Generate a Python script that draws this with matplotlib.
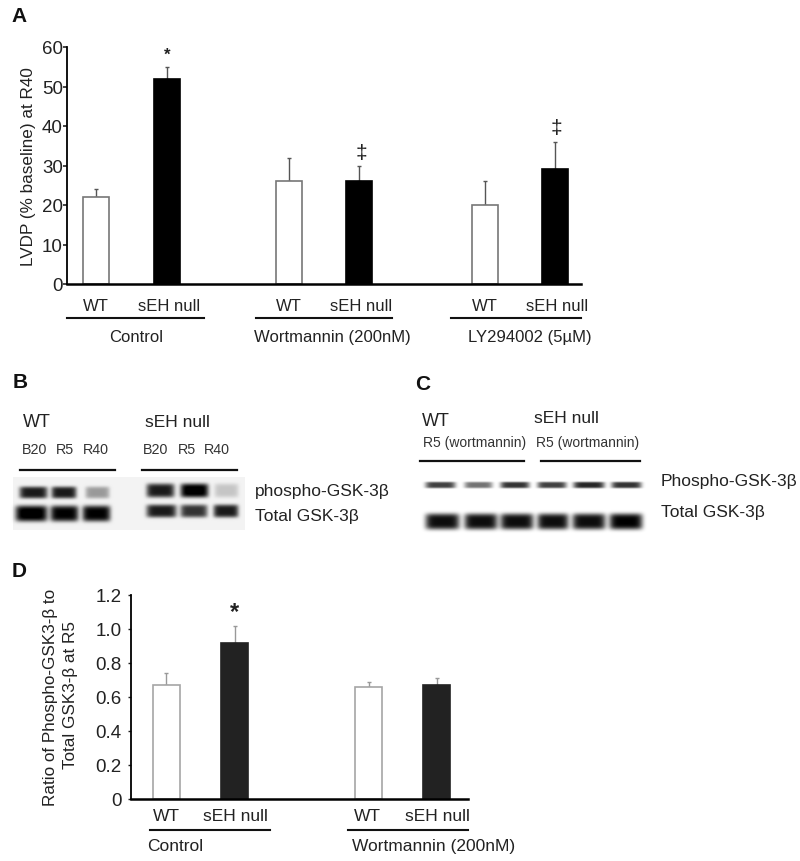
import numpy as np
import matplotlib
matplotlib.use('Agg')
import matplotlib.pyplot as plt

plt.rcParams['font.family'] = ['Liberation Sans', 'DejaVu Sans']

W, H = 800, 862

# Panel A values
a_groups = ['Control', 'Wortmannin (200nM)', 'LY294002 (5µM)']
a_labels = ['WT', 'sEH null', 'WT', 'sEH null', 'WT', 'sEH null']
a_values = [22, 52, 26, 26, 20, 29]
a_errors = [2, 3, 6, 4, 6, 7]
a_ticks = [0, 10, 20, 30, 40, 50, 60]

# Panel D values
d_groups = ['Control', 'Wortmannin (200nM)']
d_labels = ['WT', 'sEH null', 'WT', 'sEH null']
d_values = [0.67, 0.92, 0.66, 0.67]
d_errors = [0.07, 0.10, 0.03, 0.04]
d_ticks = [0, 0.2, 0.4, 0.6, 0.8, 1.0, 1.2]
d_ticklabels = ['0', '0.2', '0.4', '0.6', '0.8', '1.0', '1.2']

# Blot bands: left, right, darkness (pixel positions are in the layout below)
b_phospho = [(19, 47, .85), (51, 76, .85), (85, 109, .35), (146, 174, .85), (180, 208, 1.0), (214, 238, .18)]
b_total = [(15, 47, 1.0), (50, 78, .95), (82, 110, .95), (146, 176, .85), (180, 207, .75), (213, 238, .85)]
c_phospho = [(425, 455, .75), (464, 492, .55), (500, 529, .8), (537, 566, .75), (573, 604, .85), (611, 641, .8)]
c_total = [(425, 459, .95), (464, 497, .95), (500, 533, .95), (537, 568, .95), (572, 605, .95), (609, 642, 1.0)]


def px_axes(fig, left, top, right, bottom):
    return fig.add_axes([left / W, 1 - bottom / H, (right - left) / W, (bottom - top) / H])


def bar_panel(ax, xs, values, errors, colors, width, edge, err):
    for x, v, e, c in zip(xs, values, errors, colors):
        ax.bar(x, v, width=width, facecolor=c, edgecolor=edge if c == 'white' else c, linewidth=1.2, zorder=2)
        ax.errorbar(x, v, yerr=[[0], [e]], color=err, elinewidth=1, capsize=1.5, capthick=1, zorder=1)
    for side in ['top', 'right']:
        ax.spines[side].set_visible(False)
    ax.spines['left'].set_linewidth(1.3)
    ax.spines['bottom'].set_linewidth(1.8)
    ax.set_xticks([])
    ax.patch.set_alpha(0)


def draw_bands(img, bands, yc, height):
    yy, xx = np.mgrid[0:H, 0:W]
    for x0, x1, d in bands:
        cx = (x0 + x1) / 2
        hw = (x1 - x0) / 2
        img -= d * np.exp(-np.abs((xx - cx) / hw) ** 6) * np.exp(-np.abs((yy - yc) / height) ** 4)


fig = plt.figure(figsize=(W / 100, H / 100), dpi=100, facecolor='white')

# overlay in pixel coordinates for blots, labels and group lines
ov = fig.add_axes([0, 0, 1, 1])
ov.set_xlim(0, W)
ov.set_ylim(H, 0)
ov.axis('off')

# blots
img = np.ones((H, W))
img[478:531, 13:245] = 0.95
draw_bands(img, b_phospho[:3], 493, 6)
draw_bands(img, b_phospho[3:], 491, 7)
draw_bands(img, b_total[:3], 514, 8)
draw_bands(img, b_total[3:], 511.5, 6.5)
draw_bands(img, c_phospho, 485.5, 3.2)
draw_bands(img, c_total, 522, 8)
ov.imshow(np.clip(img, 0, 1), cmap='gray', vmin=0, vmax=1, extent=[0, W, H, 0],
          aspect='auto', interpolation='bilinear', zorder=0)
ov.set_xlim(0, W)
ov.set_ylim(H, 0)

# Panel A
ax_a = px_axes(fig, 67, 48, 581, 285)
a_x = [96, 167, 289, 359, 485, 555]
a_colors = ['white', 'black'] * 3
bar_panel(ax_a, a_x, a_values, a_errors, a_colors, 26, '#777777', '#555555')
ax_a.set_xlim(67, 581)
ax_a.set_ylim(0, 60)
ax_a.set_yticks(a_ticks)
ax_a.tick_params(axis='y', labelsize=13.5, length=3, width=1.2, pad=0, colors='#222222')
ax_a.set_ylabel('LVDP (% baseline) at R40', fontsize=12.3, color='#222222', labelpad=4)
ax_a.text(a_x[1], 58.2, '*', ha='center', va='center', fontsize=12, fontweight='bold', color='#222222')
ax_a.text(361, 33.2, '‡', ha='center', va='center', fontsize=15, color='#222222')
ax_a.text(556, 39.6, '‡', ha='center', va='center', fontsize=15, color='#222222')

# Panel D
ax_d = px_axes(fig, 131, 596, 468, 800)
d_x = [166, 234.5, 368.5, 436.5]
d_colors = ['white', '#222222'] * 2
bar_panel(ax_d, d_x, d_values, d_errors, d_colors, 27, '#a5a5a5', '#999999')
ax_d.set_xlim(131, 468)
ax_d.set_ylim(0, 1.2)
ax_d.set_yticks(d_ticks)
ax_d.set_yticklabels(d_ticklabels)
ax_d.tick_params(axis='y', labelsize=13.5, length=2, width=1, pad=5, colors='#222222')
ax_d.text(d_x[1], 1.10, '*', ha='center', va='center', fontsize=17, fontweight='bold', color='#222222')
ov.text(51, 697, 'Ratio of Phospho-GSK3-β to', rotation=90, ha='center', va='center', fontsize=12.3, color='#222222')
ov.text(71, 695, 'Total GSK3-β at R5', rotation=90, ha='center', va='center', fontsize=12.3, color='#222222')

# panel letters
for s, x, y in [('A', 11, 17), ('B', 13, 383), ('C', 415, 385), ('D', 12, 572)]:
    ov.text(x, y, s, fontsize=15, fontweight='bold', ha='left', va='center', color='#111111')

# A labels and group lines
for x, s in zip([96, 169, 289, 361, 485, 557], a_labels):
    ov.text(x, 307, s, ha='center', va='center', fontsize=12, color='#222222')
for (x0, x1), s, xc in zip([(67, 204), (256, 392), (451, 581)], a_groups, [136, 332, 530]):
    ov.plot([x0, x1], [319, 319], color='#111111', lw=1.5)
    ov.text(xc, 338, s, ha='center', va='center', fontsize=12, color='#222222')

# D labels and group lines
for x, s in zip([166, 235, 367, 437], d_labels):
    ov.text(x, 817, s, ha='center', va='center', fontsize=12.5, color='#222222')
for (x0, x1), s, xl in zip([(150, 270), (348, 468)], d_groups, [147, 352]):
    ov.plot([x0, x1], [831, 831], color='#111111', lw=1.5)
    ov.text(xl, 847, s, ha='left', va='center', fontsize=12.5, color='#222222')

# B labels
for x0, x1 in [(20, 115), (142, 237)]:
    ov.plot([x0, x1], [471, 471], color='#111111', lw=1.6)
ov.text(23, 423, 'WT', fontsize=13, va='center', color='#222222')
ov.text(145, 423, 'sEH null', fontsize=12.5, va='center', color='#222222')
for x, s in zip([35, 65, 96, 156, 187, 217], ['B20', 'R5', 'R40'] * 2):
    ov.text(x, 450, s, fontsize=10.3, ha='center', va='center', color='#333333')
ov.text(255, 492, 'phospho-GSK-3β', fontsize=12.5, va='center', color='#222222')
ov.text(255, 517, 'Total GSK-3β', fontsize=12.5, va='center', color='#222222')

# C labels
for x0, x1 in [(420, 524), (541, 640)]:
    ov.plot([x0, x1], [462, 462], color='#111111', lw=1.6)
ov.text(422, 422, 'WT', fontsize=13, va='center', color='#222222')
ov.text(534, 419, 'sEH null', fontsize=12.5, va='center', color='#222222')
ov.text(423, 443, 'R5 (wortmannin)', fontsize=10, va='center', color='#333333')
ov.text(536, 443, 'R5 (wortmannin)', fontsize=10, va='center', color='#333333')
ov.text(661, 482, 'Phospho-GSK-3β', fontsize=12.5, va='center', color='#222222')
ov.text(661, 513, 'Total GSK-3β', fontsize=12.5, va='center', color='#222222')

fig.savefig('out.png', dpi=100)
